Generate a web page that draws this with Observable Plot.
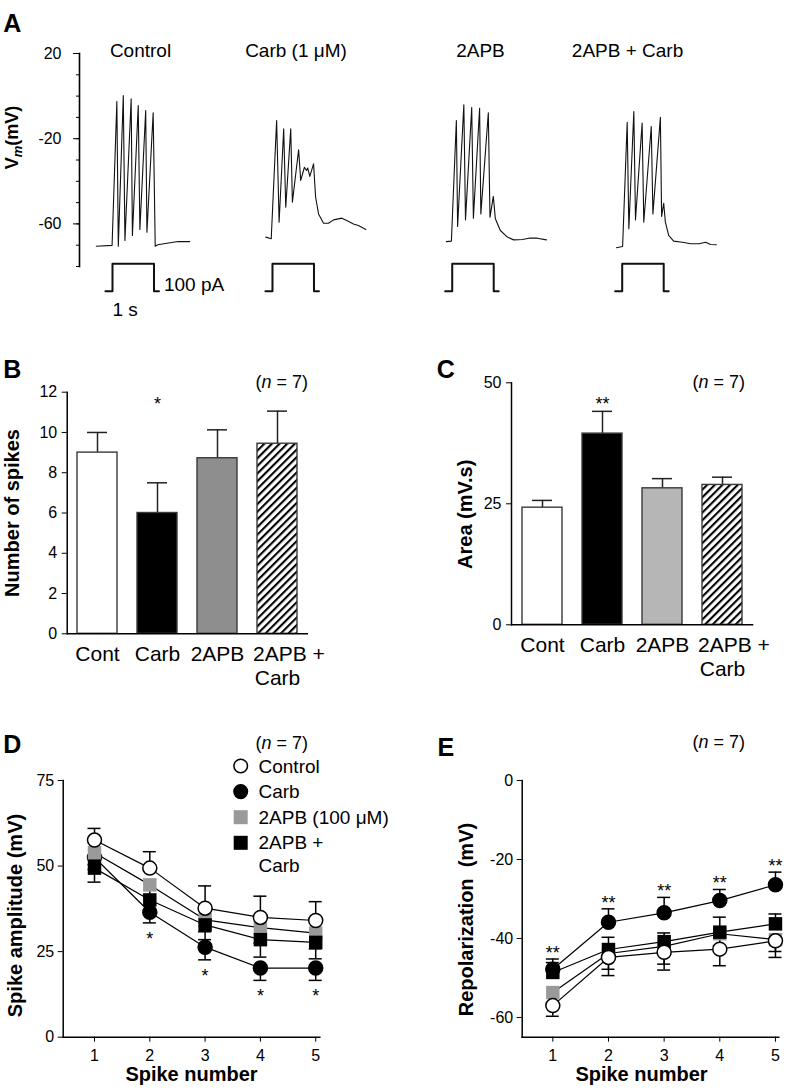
<!DOCTYPE html>
<html><head><meta charset="utf-8">
<script src="https://cdn.jsdelivr.net/npm/d3@7"></script>
<script src="https://cdn.jsdelivr.net/npm/@observablehq/plot@0.6"></script>
<style>
body{margin:0;background:#fff;font-family:"Liberation Sans",Arial,Helvetica,sans-serif;}
#fig{position:relative;width:787px;height:1091px;overflow:hidden;background:#fff;}
</style></head><body>
<svg width="0" height="0" style="position:absolute"><defs>
<pattern id="hatch" patternUnits="userSpaceOnUse" width="5.4" height="5.4" patternTransform="rotate(45)">
<rect width="5.4" height="5.4" fill="white"/><line x1="1" y1="0" x2="1" y2="5.4" stroke="black" stroke-width="2.2"/>
</pattern></defs></svg>
<div id="fig"></div>
<script>
const FONT = '"Liberation Sans", Arial, Helvetica, sans-serif';

// ---------- Panel A: voltage traces (time in s from current-step onset, Vm in mV) ----------
const traceNames = ["Control", "Carb (1 \u03bcM)", "2APB", "2APB + Carb"];
const controlT = [-0.39,-0.01,0.105,0.14,0.26,0.30,0.45,0.48,0.62,0.66,0.80,0.83,0.98,1.03,1.09,1.58,1.86];
const controlV = [-70.5,-70.1,-2.5,-70.5,0.3,-67.8,-1.3,-65.4,-4.4,-62.6,-6.8,-63.9,-7.8,-70.5,-69.8,-68.3,-68.3];
const carbT = [-0.16,-0.03,0.10,0.16,0.27,0.32,0.44,0.48,0.63,0.68,0.77,0.82,0.85,0.90,0.99,1.04,1.11,1.23,1.35,1.47,1.67,1.79,1.95,2.07,2.25];
const carbV = [-66.2,-67.0,-11.5,-59.2,-15.4,-52.2,-15.4,-49.8,-25.2,-39.6,-33.4,-34.9,-33.8,-37.7,-31.8,-47.5,-55.3,-59.7,-59.7,-58.1,-57.3,-58.4,-60.0,-60.8,-62.6];
const apbT = [-0.14,-0.02,0.10,0.13,0.28,0.32,0.47,0.51,0.66,0.69,0.87,0.91,0.99,1.04,1.16,1.33,1.48,1.69,1.85,2.05,2.27];
const apbV = [-68.3,-68.1,-11.5,-61.2,-4.1,-58.1,-5.4,-57.3,-5.7,-55.3,-7.8,-56.9,-47.1,-57.6,-63.1,-66.2,-67.5,-67.3,-66.7,-66.7,-67.5];
const apbCarbT = [-0.14,0.01,0.12,0.16,0.28,0.32,0.48,0.52,0.70,0.74,0.92,0.95,1.00,1.04,1.12,1.24,1.45,1.65,1.85,2.01,2.13,2.27];
const apbCarbV = [-71.2,-70.6,-12.3,-62.3,-7.2,-58.1,-12.7,-59.2,-14.3,-55.3,-9.9,-56.5,-50.3,-59.2,-65.4,-68.1,-68.6,-69.3,-69.3,-68.6,-69.7,-69.8];
const vmTicks = [20, -20, -60];
const pulseT = [-0.17, 0, 0, 1, 1, 1.12];
const pulseI = [0, 0, 100, 100, 0, 0];
const pulseLabels = ["100 pA", "1 s"];

// ---------- Panels B & C ----------
const categories = ["Cont", "Carb", "2APB", "2APB + Carb"];
const catLine1 = ["Cont", "Carb", "2APB", "2APB +"];
const catLine2 = ["", "", "", "Carb"];
const spikeCount = [9.0, 6.0, 8.72, 9.44];
const spikeCountSem = [1.0, 1.5, 1.41, 1.62];
const spikeCountStars = ["", "*", "", ""];
const areaMean = [24.2, 39.5, 28.2, 28.9];
const areaSem = [1.5, 4.6, 2.0, 1.6];
const areaStars = ["", "**", "", ""];
const spikeCountTicks = [0, 2, 4, 6, 8, 10, 12];
const areaTicks = [0, 25, 50];

// ---------- Panels D & E ----------
const spikeNumber = [1, 2, 3, 4, 5];
const seriesNames = ["Control", "Carb", "2APB", "2APB + Carb"];
const legendLabels = ["Control", "Carb", "2APB (100 \u03bcM)", "2APB +\nCarb"];
const ampControl = [57.6, 49.4, 37.7, 35.0, 34.1];
const ampControlSem = [3.4, 4.8, 6.5, 6.2, 5.5];
const ampCarb = [52.5, 36.5, 26.3, 20.2, 20.2];
const ampCarbSem = [3.5, 3.1, 3.7, 3.6, 3.6];
const amp2APB = [53.9, 44.5, 34.3, 32.0, 30.4];
const amp2APBSem = [3.5, 3.0, 3.5, 4.5, 4.6];
const amp2APBCarb = [49.4, 40.1, 32.8, 28.5, 27.7];
const amp2APBCarbSem = [4.1, 3.0, 4.3, 5.1, 4.8];
const ampCarbStars = ["", "*", "*", "*", "*"];
const ampTicks = [0, 25, 50, 75];
const repControl = [-57.0, -44.8, -43.5, -42.7, -40.6];
const repControlSem = [2.7, 4.6, 4.5, 4.2, 4.2];
const repCarb = [-47.8, -35.9, -33.5, -30.4, -26.4];
const repCarbSem = [2.6, 3.4, 3.9, 2.8, 3.2];
const rep2APB = [-53.7, -43.8, -42.0, -38.8, -40.3];
const rep2APBSem = [2.5, 4.0, 4.5, 3.0, 3.0];
const rep2APBCarb = [-48.6, -42.8, -40.8, -38.4, -36.3];
const rep2APBCarbSem = [2.5, 3.1, 2.2, 3.8, 2.5];
const repCarbStars = ["**", "**", "**", "**", "**"];
const repTicks = [0, -20, -40, -60];

// ---------- layout / style ----------
const fig = document.getElementById("fig");
function place(node, left, top) {
  node.style.position = "absolute"; node.style.left = left + "px"; node.style.top = top + "px";
  fig.appendChild(node);
}
const hyphen = d => String(d);
const baseStyle = {fontFamily: FONT, fontSize: "16px", color: "black", background: "transparent", overflow: "visible"};
const traceOffset = [0, 3.855, 8.186, 12.282];
const titleShift = [0.675, 0.567, 0.681, 0.128];
const xDomainA = [-0.795, 16.265];

// Panel A traces
const traceTimes = [controlT, carbT, apbT, apbCarbT];
const traceVolts = [controlV, carbV, apbV, apbCarbV];
const traceRows = traceNames.flatMap((name, i) => traceTimes[i].map((t, j) => ({trace: name, t: t + traceOffset[i], v: traceVolts[i][j]})));
const plotA = Plot.plot({
  width: 787, height: 240, marginTop: 23, marginBottom: 4, marginLeft: 79, marginRight: 0,
  style: baseStyle,
  x: {domain: xDomainA, axis: null},
  y: {domain: [-80, 20]},
  marks: [
    Plot.frame({anchor: "left", strokeWidth: 1.6}),
    Plot.axisY({ticks: d3.range(-80, 21, 10), tickSize: 3, tickFormat: () => "", label: null}),
    Plot.axisY({ticks: vmTicks, tickSize: 6, tickPadding: 12, fontSize: 16, tickFormat: hyphen, label: null}),
    Plot.line(traceRows, {x: "t", y: "v", z: "trace", stroke: "#111", strokeWidth: 1.1}),
    Plot.text(traceNames, {x: (d, i) => traceOffset[i] + titleShift[i], frameAnchor: "top", lineAnchor: "bottom", dy: 3, fontSize: 19})
  ]
});
place(plotA, 0, 30);

// Panel A current pulses
const pulseRows = traceNames.flatMap((name, i) => pulseT.map((t, j) => ({trace: name, t: t + traceOffset[i], i: pulseI[j]})));
const plotPulse = Plot.plot({
  width: 787, height: 70, marginTop: 8.3, marginBottom: 34.3, marginLeft: 79, marginRight: 0,
  style: baseStyle,
  x: {domain: xDomainA, axis: null},
  y: {domain: [0, 100], axis: null},
  marks: [
    Plot.line(pulseRows, {x: "t", y: "i", z: "trace", stroke: "#111", strokeWidth: 2}),
    Plot.text([pulseLabels[0]], {x: pulseT[pulseT.length - 1], y: 0, textAnchor: "start", lineAnchor: "bottom", dx: 5, fontSize: 19}),
    Plot.text([pulseLabels[1]], {x: pulseT[1], y: 0, textAnchor: "start", lineAnchor: "top", dy: 11, fontSize: 19})
  ]
});
place(plotPulse, 0, 255);

// Bar panels
function barPanel(o) {
  const rows = categories.map((c, i) => ({cat: c, mean: o.mean[i], top: o.mean[i] + o.sem[i], star: o.stars[i], l1: catLine1[i], l2: catLine2[i], fill: o.fills[i]}));
  const starMark = o.starAtTop
    ? Plot.text(rows, {filter: d => d.star, x: "cat", text: "star", frameAnchor: "top", lineAnchor: "bottom", dy: o.starDy, fontSize: 18})
    : Plot.text(rows, {filter: d => d.star, x: "cat", y: "top", text: "star", lineAnchor: "bottom", dy: o.starDy, fontSize: 18});
  return Plot.plot({
    width: o.width, height: 360, marginLeft: o.ml, marginRight: o.mr, marginTop: o.mt, marginBottom: o.mb,
    style: baseStyle,
    x: {domain: categories, paddingInner: 0.33, paddingOuter: 0.166, axis: null},
    y: {domain: o.yDomain},
    color: {type: "identity"},
    marks: [
      Plot.ruleX(rows, {x: "cat", y1: "mean", y2: "top", stroke: "#222", strokeWidth: 1.5}),
      Plot.tickY(rows, {x: "cat", y: "top", insetLeft: 10, insetRight: 10, stroke: "#222", strokeWidth: 1.5}),
      Plot.barY(rows, {x: "cat", y: "mean", fill: "fill", stroke: "#3a3a3a", strokeWidth: 1.4}),
      Plot.frame({anchor: "left", strokeWidth: 1.5}),
      Plot.ruleY([o.yDomain[0]], {strokeWidth: 1.5}),
      Plot.axisY({ticks: o.ticks, tickSize: 5, tickPadding: 5, fontSize: 16, tickFormat: hyphen, label: null}),
      Plot.text(rows, {filter: d => !d.l2, x: "cat", text: "l1", frameAnchor: "bottom", lineAnchor: "top", dy: 12.5, fontSize: 21}),
      Plot.text(rows, {filter: d => d.l2, x: "cat", text: "l1", frameAnchor: "bottom", lineAnchor: "top", textAnchor: "start", dx: -24.5, dy: 12.5, fontSize: 21}),
      Plot.text(rows, {filter: d => d.l2, x: "cat", text: "l2", frameAnchor: "bottom", lineAnchor: "top", dy: 36.2, fontSize: 21}),
      starMark,
      Plot.text([o.yLabel], {frameAnchor: "left", textAnchor: "middle", lineAnchor: "middle", rotate: -90, dx: o.yLabelDx, dy: o.yLabelDy, fontWeight: "bold", fontSize: 20})
    ]
  });
}
place(barPanel({mean: spikeCount, sem: spikeCountSem, stars: spikeCountStars, starAtTop: true, starDy: 17.7,
  fills: ["white", "black", "#8e8e8e", "url(#hatch)"], yDomain: [0, 12], ticks: spikeCountTicks,
  yLabel: "Number of spikes", yLabelDx: -54.2, yLabelDy: 0,
  width: 330, ml: 66.7, mr: 22, mt: 51.7, mb: 66.7}), 0, 340);
place(barPanel({mean: areaMean, sem: areaSem, stars: areaStars, starAtTop: false, starDy: -1.6,
  fills: ["white", "black", "#b6b6b6", "url(#hatch)"], yDomain: [0, 50], ticks: areaTicks,
  yLabel: "Area (mV.s)", yLabelDx: -46, yLabelDy: 10.5,
  width: 387, ml: 111, mr: 33.7, mt: 42.3, mb: 75.7}), 400, 340);

// Line panels
const symbolStyle = {
  "Control": {symbol: "circle", r: 7, fill: "white", stroke: "black"},
  "Carb": {symbol: "circle", r: 7, fill: "black", stroke: "black"},
  "2APB": {symbol: "square", r: 7.6, fill: "#9a9a9a", stroke: "none"},
  "2APB + Carb": {symbol: "square", r: 7.6, fill: "black", stroke: "none"}
};
const drawOrder = ["Carb", "2APB", "2APB + Carb", "Control"];
function linePanel(o) {
  const rows = seriesNames.flatMap((s, k) => spikeNumber.map((n, i) => ({
    series: s, n, v: o.vals[k][i], tip: o.vals[k][i] + o.dirs[k] * o.sems[k][i], star: s === "Carb" ? o.stars[i] : ""
  })));
  return Plot.plot({
    width: o.width, height: 391, marginLeft: o.ml, marginRight: o.mr, marginTop: 80, marginBottom: 54.3,
    style: baseStyle,
    x: {domain: o.xDomain},
    y: {domain: o.yDomain},
    marks: [
      Plot.frame({anchor: "left", strokeWidth: 1.5}),
      Plot.frame({anchor: "bottom", strokeWidth: 1.5}),
      Plot.axisY({ticks: o.ticks, tickSize: 5, tickPadding: 4, fontSize: 16, tickFormat: hyphen, label: null}),
      Plot.axisX({ticks: spikeNumber, tickSize: 5, tickPadding: 7, fontSize: 16, tickFormat: hyphen, label: null}),
      Plot.line(rows, {x: "n", y: "v", z: "series", stroke: "black", strokeWidth: 1.2}),
      Plot.ruleX(rows, {x: "n", y1: "v", y2: "tip", strokeWidth: 1.5}),
      Plot.ruleY(rows, {y: "tip", x1: "n", x2: "n", insetLeft: -6.5, insetRight: -6.5, strokeWidth: 1.5}),
      ...drawOrder.map(s => Plot.dot(rows, {filter: d => d.series === s, x: "n", y: "v", ...symbolStyle[s], strokeWidth: 1.5})),
      Plot.text(rows, {filter: d => d.star, x: "n", y: "tip", text: "star", lineAnchor: "bottom", dy: o.starDy, fontSize: 18}),
      Plot.text(["Spike number"], {frameAnchor: "bottom", textAnchor: "middle", lineAnchor: "bottom", dy: 44, dx: o.xLabelDx, fontWeight: "bold", fontSize: 20}),
      Plot.text([o.yLabel], {frameAnchor: "left", textAnchor: "middle", lineAnchor: "middle", rotate: -90, dx: o.yLabelDx, dy: o.yLabelDy, fontWeight: "bold", fontSize: 20})
    ]
  });
}
place(linePanel({vals: [ampControl, ampCarb, amp2APB, amp2APBCarb], sems: [ampControlSem, ampCarbSem, amp2APBSem, amp2APBCarbSem],
  dirs: [1, -1, -1, -1], stars: ampCarbStars, starDy: 22, xDomain: [0.434, 5.074], yDomain: [0, 75], ticks: ampTicks,
  yLabel: "Spike amplitude (mV)", yLabelDx: -47.7, yLabelDy: 6.7, xLabelDx: 0,
  width: 400, ml: 62.7, mr: 80.7}), 0, 700);
place(linePanel({vals: [repControl, repCarb, rep2APB, rep2APBCarb], sems: [repControlSem, repCarbSem, rep2APBSem, rep2APBCarbSem],
  dirs: [-1, 1, -1, 1], stars: repCarbStars, starDy: 0, xDomain: [0.45, 5.06], yDomain: [-65, 0], ticks: repTicks,
  yLabel: "Repolarization\u00a0 (mV)", yLabelDx: -55.7, yLabelDy: 10.7, xLabelDx: -9,
  width: 387, ml: 121.7, mr: 8.7}), 400, 700);

// ---------- overlay: panel letters, n labels, Vm label, legend ----------
const ov = d3.create("svg").attr("width", 787).attr("height", 1091)
  .style("position", "absolute").style("left", "0px").style("top", "0px")
  .style("pointer-events", "none").style("font-family", FONT);
[["A", 3.3, 32], ["B", 3.2, 378], ["C", 436.7, 378], ["D", 3.2, 753], ["E", 437.5, 756]].forEach(([t, x, y]) =>
  ov.append("text").attr("x", x).attr("y", y).attr("font-size", 25).attr("font-weight", "bold").text(t));
[[255.5, 388.3], [692.5, 387.7], [255.5, 749.3], [692.5, 748]].forEach(([x, y]) => {
  const t = ov.append("text").attr("x", x).attr("y", y).attr("font-size", 18);
  t.append("tspan").text("(");
  t.append("tspan").attr("font-style", "italic").text("n");
  t.append("tspan").text(" = 7)");
});
const vm = ov.append("text").attr("transform", "translate(17.9,137.5) rotate(-90)").attr("text-anchor", "middle")
  .attr("font-size", 18).attr("font-weight", "bold");
vm.append("tspan").text("V");
vm.append("tspan").attr("font-style", "italic").attr("font-size", 13).attr("dy", 4).text("m");
vm.append("tspan").attr("dy", -4).text("(mV)");
// legend for D
legendLabels.forEach((lab, i) => {
  const s = symbolStyle[seriesNames[i]];
  const cy = 766 + 25.6 * i, cx = 240.7;
  if (s.symbol === "circle") ov.append("circle").attr("cx", cx).attr("cy", cy).attr("r", 6.8).attr("fill", s.fill).attr("stroke", "black").attr("stroke-width", 1.5);
  else ov.append("rect").attr("x", cx - 7).attr("y", cy - 7).attr("width", 14).attr("height", 14).attr("fill", s.fill);
  lab.split("\n").forEach((line, k) =>
    ov.append("text").attr("x", 258.5).attr("y", cy + 6.6 + 22.7 * k).attr("font-size", 19).text(line));
});
fig.appendChild(ov.node());
</script>
</body></html>
